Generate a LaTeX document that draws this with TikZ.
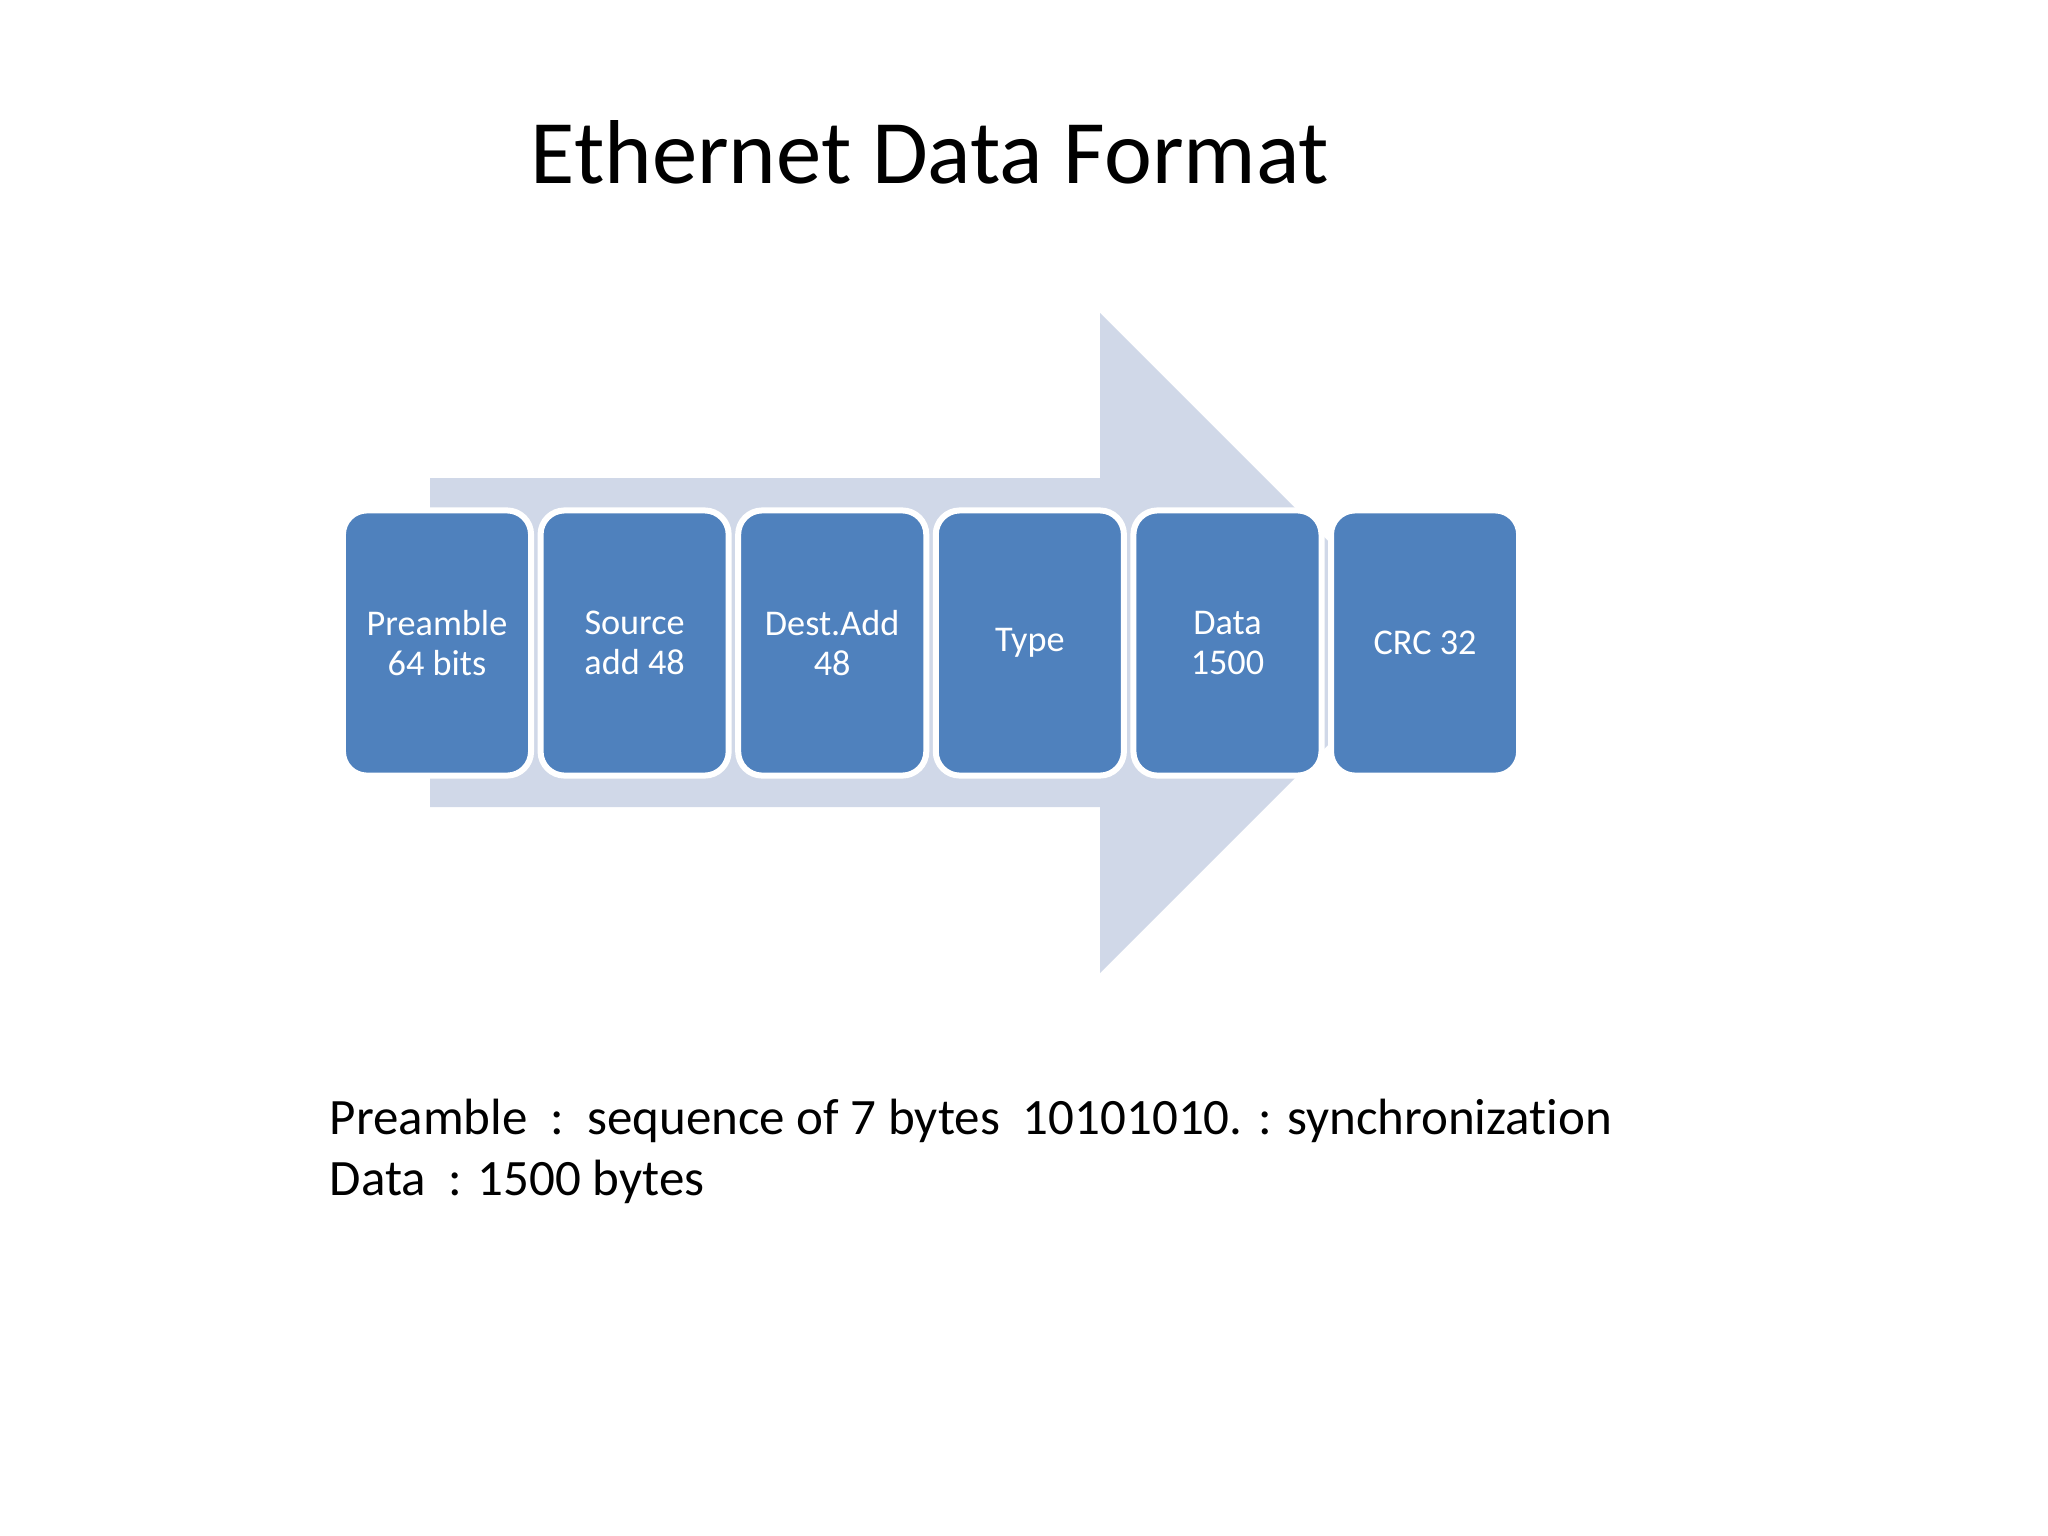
\documentclass[tikz,border=0pt]{standalone}
\usepackage{fontspec}
\setmainfont{Carlito}[Ligatures=CommonOff]
\usetikzlibrary{positioning}
\definecolor{fieldblue}{RGB}{79,129,189}
\definecolor{arrowgray}{RGB}{208,216,232}
\tikzset{
  field/.style={rectangle,rounded corners=0.24cm,fill=fieldblue,draw=white,line width=0.06cm,
    minimum width=1.88cm,minimum height=2.65cm,outer sep=0pt,inner sep=0pt,
    text=white,align=center,font=\fontsize{10.3}{11.5}\selectfont},
  note/.style={anchor=base west,inner sep=0pt,text=black,font=\fontsize{14.5}{17.4}\selectfont}
}
\begin{document}
\begin{tikzpicture}[x=0.01cm,y=-0.01cm]
\useasboundingbox[fill=white] (0,0) rectangle (2048,1536);
\node[anchor=base,text=black,font=\fontsize{25.8}{31}\selectfont] (title) at (930,183) {Ethernet Data Format};

\fill[arrowgray] (430,478) -- (1100,478) -- (1100,313) -- (1430,643) -- (1100,973) -- (1100,807) -- (430,807) -- cycle;

\node[field] (pre) at (437,643) {Preamble\\64 bits};
\node[field,right=0.095cm of pre] (src) {Source\\add 48};
\node[field,right=0.095cm of src] (dst) {Dest.Add\\48};
\node[field,right=0.095cm of dst] (type) {Type};
\node[field,right=0.095cm of type] (data) {Data\\1500};
\node[field,right=0.095cm of data] (crc) {CRC 32};

\node[note] (line1) at (329,1134) {Preamble\ \ :\ \ sequence of 7 bytes\ \ 10101010. : synchronization};
\node[note] (line2) at (329,1195) {Data\ \ : 1500 bytes};
\end{tikzpicture}
\end{document}
